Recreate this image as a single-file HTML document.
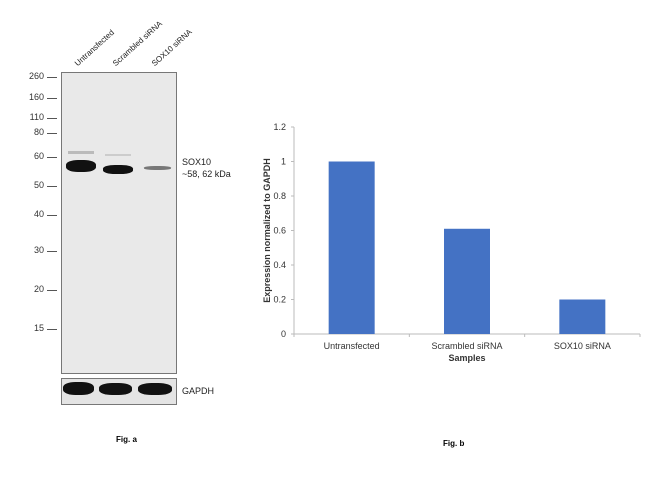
<!DOCTYPE html>
<html><head><meta charset="utf-8"><style>
body{margin:0;background:#fff;width:650px;height:481px;overflow:hidden;position:relative;font-family:"Liberation Sans",Arial,sans-serif}
.abs{position:absolute}
.mw{position:absolute;font-size:9px;color:#333;text-align:right;width:30px;left:14px}
.tk{position:absolute;left:47px;width:10px;height:1px;background:#555}
.lane{position:absolute;font-size:8px;color:#222;transform:rotate(-42deg);transform-origin:left bottom;white-space:nowrap}
.band{position:absolute;background:#111;border-radius:40%}
</style></head><body>
<div class="abs" style="left:0;top:0;width:250px;height:481px">
<div class="lane" style="left:79px;top:59px">Untransfected</div>
<div class="lane" style="left:117px;top:59px">Scrambled siRNA</div>
<div class="lane" style="left:156px;top:59px">SOX10 siRNA</div>
<div class="abs" style="left:61px;top:72px;width:114px;height:300px;background:#e9e9e9;border:1px solid #777"></div>
<div class="band" style="left:66px;top:160px;width:30px;height:12px"></div>
<div class="band" style="left:103px;top:165px;width:30px;height:9px"></div>
<div class="band" style="left:144px;top:166px;width:27px;height:4px;background:#777"></div>
<div class="abs" style="left:68px;top:151px;width:26px;height:3px;background:#bbb"></div>
<div class="abs" style="left:105px;top:154px;width:26px;height:2px;background:#ccc"></div>
<div class="abs" style="left:61px;top:378px;width:114px;height:25px;background:#e4e4e4;border:1px solid #777"></div>
<div class="band" style="left:63px;top:382px;width:31px;height:13px"></div>
<div class="band" style="left:99px;top:383px;width:33px;height:12px"></div>
<div class="band" style="left:138px;top:383px;width:34px;height:12px"></div>
<div class="mw" style="top:71px">260</div><div class="tk" style="top:77px"></div>
<div class="mw" style="top:92px">160</div><div class="tk" style="top:98px"></div>
<div class="mw" style="top:112px">110</div><div class="tk" style="top:118px"></div>
<div class="mw" style="top:127px">80</div><div class="tk" style="top:133px"></div>
<div class="mw" style="top:151px">60</div><div class="tk" style="top:157px"></div>
<div class="mw" style="top:180px">50</div><div class="tk" style="top:186px"></div>
<div class="mw" style="top:209px">40</div><div class="tk" style="top:215px"></div>
<div class="mw" style="top:245px">30</div><div class="tk" style="top:251px"></div>
<div class="mw" style="top:284px">20</div><div class="tk" style="top:290px"></div>
<div class="mw" style="top:323px">15</div><div class="tk" style="top:329px"></div>
<div class="abs" style="left:182px;top:156px;font-size:9px;color:#222;line-height:12px">SOX10<br>~58, 62 kDa</div>
<div class="abs" style="left:182px;top:386px;font-size:9px;color:#222">GAPDH</div>
<div class="abs" style="left:116px;top:435px;font-size:8px;font-weight:bold">Fig. a</div>
</div>
<svg class="abs" style="left:0;top:0" width="650" height="481">
<g id="g"></g>
<text x="443" y="446" font-size="8" font-weight="bold" font-family="Liberation Sans">Fig. b</text>
</svg>
<script>
const categories=["Untransfected","Scrambled siRNA","SOX10 siRNA"];
const values=[1.0,0.61,0.2];
const yTicks=[0,0.2,0.4,0.6,0.8,1,1.2];
const NS="http://www.w3.org/2000/svg",g=document.getElementById('g');
const x0=294,x1=640,y0=334,yTop=127,ymax=1.2;
const y=v=>y0-(v/ymax)*(y0-yTop);
const bw=(x1-x0)/categories.length;
function mk(t,a,txt){const e=document.createElementNS(NS,t);for(const k in a)e.setAttribute(k,a[k]);if(txt!==undefined)e.textContent=txt;g.appendChild(e);return e;}
let e=mk('line',{x1:x0,y1:yTop,x2:x0,y2:y0,stroke:'#bbb'});

e=mk('line',{x1:x0,y1:y0,x2:x1,y2:y0,stroke:'#bbb'});

yTicks.forEach(t=>{const l=mk('text',{x:x0-8,y:y(t)+3,'font-size':9,'text-anchor':'end','font-family':'Liberation Sans',fill:'#333'},String(t));

mk('line',{x1:x0-3,y1:y(t),x2:x0,y2:y(t),stroke:'#bbb'});});
for(let i=0;i<=categories.length;i++)mk('line',{x1:x0+i*bw,y1:y0,x2:x0+i*bw,y2:y0+3,stroke:'#bbb'});
categories.forEach((c,i)=>{const cx=x0+bw*(i+0.5);
const r=mk('rect',{x:cx-23,y:y(values[i]),width:46,height:y0-y(values[i]),fill:'#4472c4'});

const t=mk('text',{x:cx,y:y0+15,'font-size':9,'text-anchor':'middle','font-family':'Liberation Sans',fill:'#333'},c);
});
e=mk('text',{x:(x0+x1)/2,y:y0+27,'font-size':9,'font-weight':'bold','text-anchor':'middle','font-family':'Liberation Sans',fill:'#333'},'Samples');

e=mk('text',{x:0,y:0,'font-size':9,'font-weight':'bold','text-anchor':'middle','font-family':'Liberation Sans',fill:'#333',transform:'translate(270,'+((y0+yTop)/2)+') rotate(-90)'},'Expression normalized to GAPDH');

</script>
</body></html>
